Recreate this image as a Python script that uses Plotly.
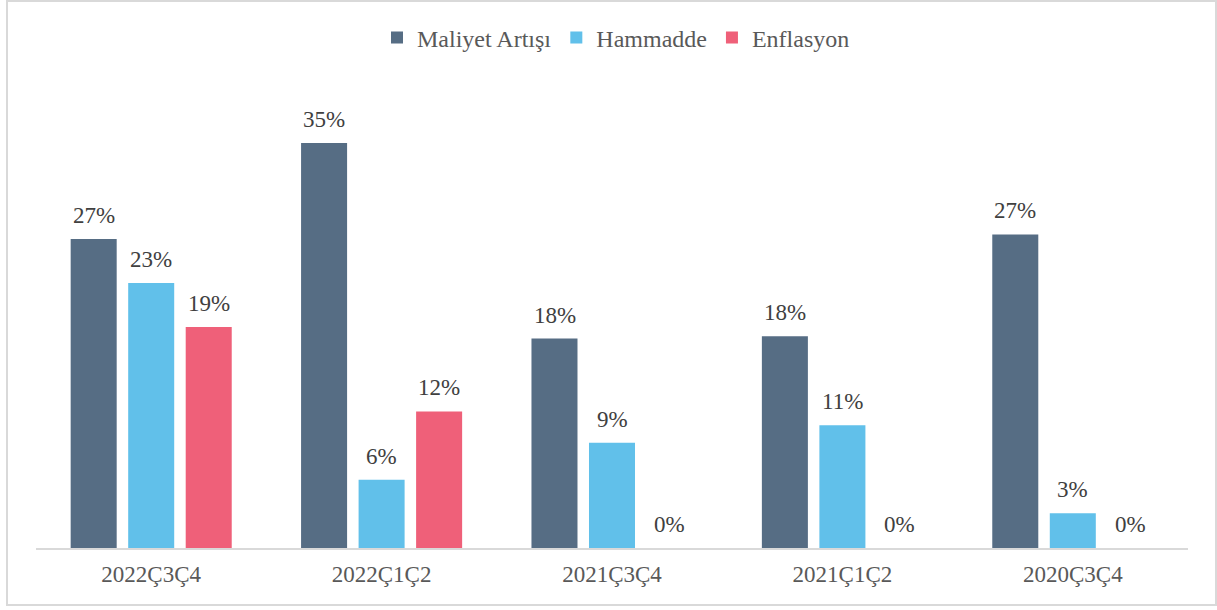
import plotly.graph_objects as go

categories = ["2022Ç3Ç4", "2022Ç1Ç2", "2021Ç3Ç4", "2021Ç1Ç2", "2020Ç3Ç4"]
maliyet = [0.267, 0.350, 0.181, 0.183, 0.271]
hammadde = [0.229, 0.059, 0.091, 0.106, 0.030]
enflasyon = [0.191, 0.118, 0.0, 0.0, 0.0]

series = [
    ("Maliyet Artışı", maliyet, "#566D84"),
    ("Hammadde", hammadde, "#61C0EA"),
    ("Enflasyon", enflasyon, "#EF6079"),
]

FONT = "Liberation Serif"

fig = go.Figure()
for name, vals, color in series:
    fig.add_trace(go.Bar(
        x=categories, y=vals, name=name,
        marker=dict(color=color, line=dict(width=0)),
    ))

# value labels above each bar, shifted to its slot within the group
slot_px = 57.5
for i, (name, vals, color) in enumerate(series):
    for cat, v in zip(categories, vals):
        fig.add_annotation(
            x=cat, y=v, xref="x", yref="y",
            text=f"{v:.0%}", showarrow=False,
            xshift=(i - 1) * slot_px, yshift=9,
            yanchor="bottom",
            font=dict(family=FONT, size=23, color="#404040"),
        )

# outer frame
fig.add_shape(
    type="rect", xref="paper", yref="paper",
    x0=(7 - 36) / 1152, x1=(1216 - 36) / 1152,
    y0=(548 - 605) / 468, y1=(548 - 1) / 468,
    line=dict(color="#D9D9D9", width=2), fillcolor="rgba(0,0,0,0)",
    layer="below",
)

fig.update_layout(
    width=1217, height=610,
    margin=dict(l=36, r=29, t=80, b=62),
    paper_bgcolor="white", plot_bgcolor="white",
    font=dict(family=FONT),
    barmode="group", bargap=0.251, bargroupgap=0.2,
    showlegend=True,
    legend=dict(
        orientation="h", x=0.5 + 4 / 1152, xanchor="center",
        y=1.0 + (80 - 38) / 468, yanchor="middle",
        font=dict(family=FONT, size=24, color="#595959"),
        itemwidth=30,
    ),
    xaxis=dict(
        showline=True, linecolor="#D9D9D9", linewidth=2,
        ticks="", showgrid=False, ticklabelstandoff=4,
        tickfont=dict(family=FONT, size=23, color="#595959"),
    ),
    yaxis=dict(
        range=[0, 0.4045], visible=False, showgrid=False, zeroline=False,
    ),
)

fig.write_html("out.html")
